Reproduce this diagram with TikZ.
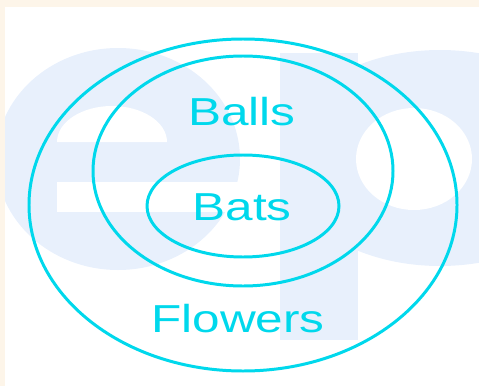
\documentclass[tikz,border=0pt]{standalone}
\usepackage{fontspec}
\setmainfont{Liberation Sans}
\usepackage{tikz}
\usetikzlibrary{positioning}

\definecolor{setcyan}{HTML}{00D8EC}
\definecolor{markblue}{HTML}{E8F0FC}
\definecolor{cream}{HTML}{FDF5E9}

\begin{document}
\begin{tikzpicture}[x=0.02cm, y=0.02cm,
    set/.style={draw=setcyan, line width=1.7pt},
    lbl/.style={anchor=base, text=setcyan, xscale=1.27,
                font=\fontsize{22.2}{26}\selectfont}]
        \useasboundingbox (0,0) rectangle (479,386);
        % Watermark
        \begin{scope}
            \clip (5,0) rectangle (479,379);
            % letter e
            \fill[markblue] (118,227) ellipse [x radius=122, y radius=111];
            \fill[white] (57,244) arc [start angle=180, end angle=0, x radius=55, y radius=36] -- cycle;
            \fill[white] (57,174) rectangle (250,204);
            % letter p
            \fill[markblue] (280,46) rectangle (358,333);
            \fill[markblue] (440,228) ellipse [x radius=160, y radius=108];
            \fill[white] (414,227) ellipse [x radius=58, y radius=51];
        \end{scope}
        % Frame, top and left strips
        \fill[cream] (0,379) rectangle (479,386);
        \fill[cream] (0,0) rectangle (5,386);

        % Sets
        \draw[set] (243,181) ellipse [x radius=214, y radius=166];
        \draw[set] (243,215) ellipse [x radius=150, y radius=115];
        \draw[set] (243,180) ellipse [x radius=96, y radius=51];

        % Labels
        \node[lbl] (balls) at (242,261) {Balls};
        \node[lbl] (bats) at (242,166) {Bats};
        \node[lbl] (flowers) at (238,54) {Flowers};
\end{tikzpicture}
\end{document}
